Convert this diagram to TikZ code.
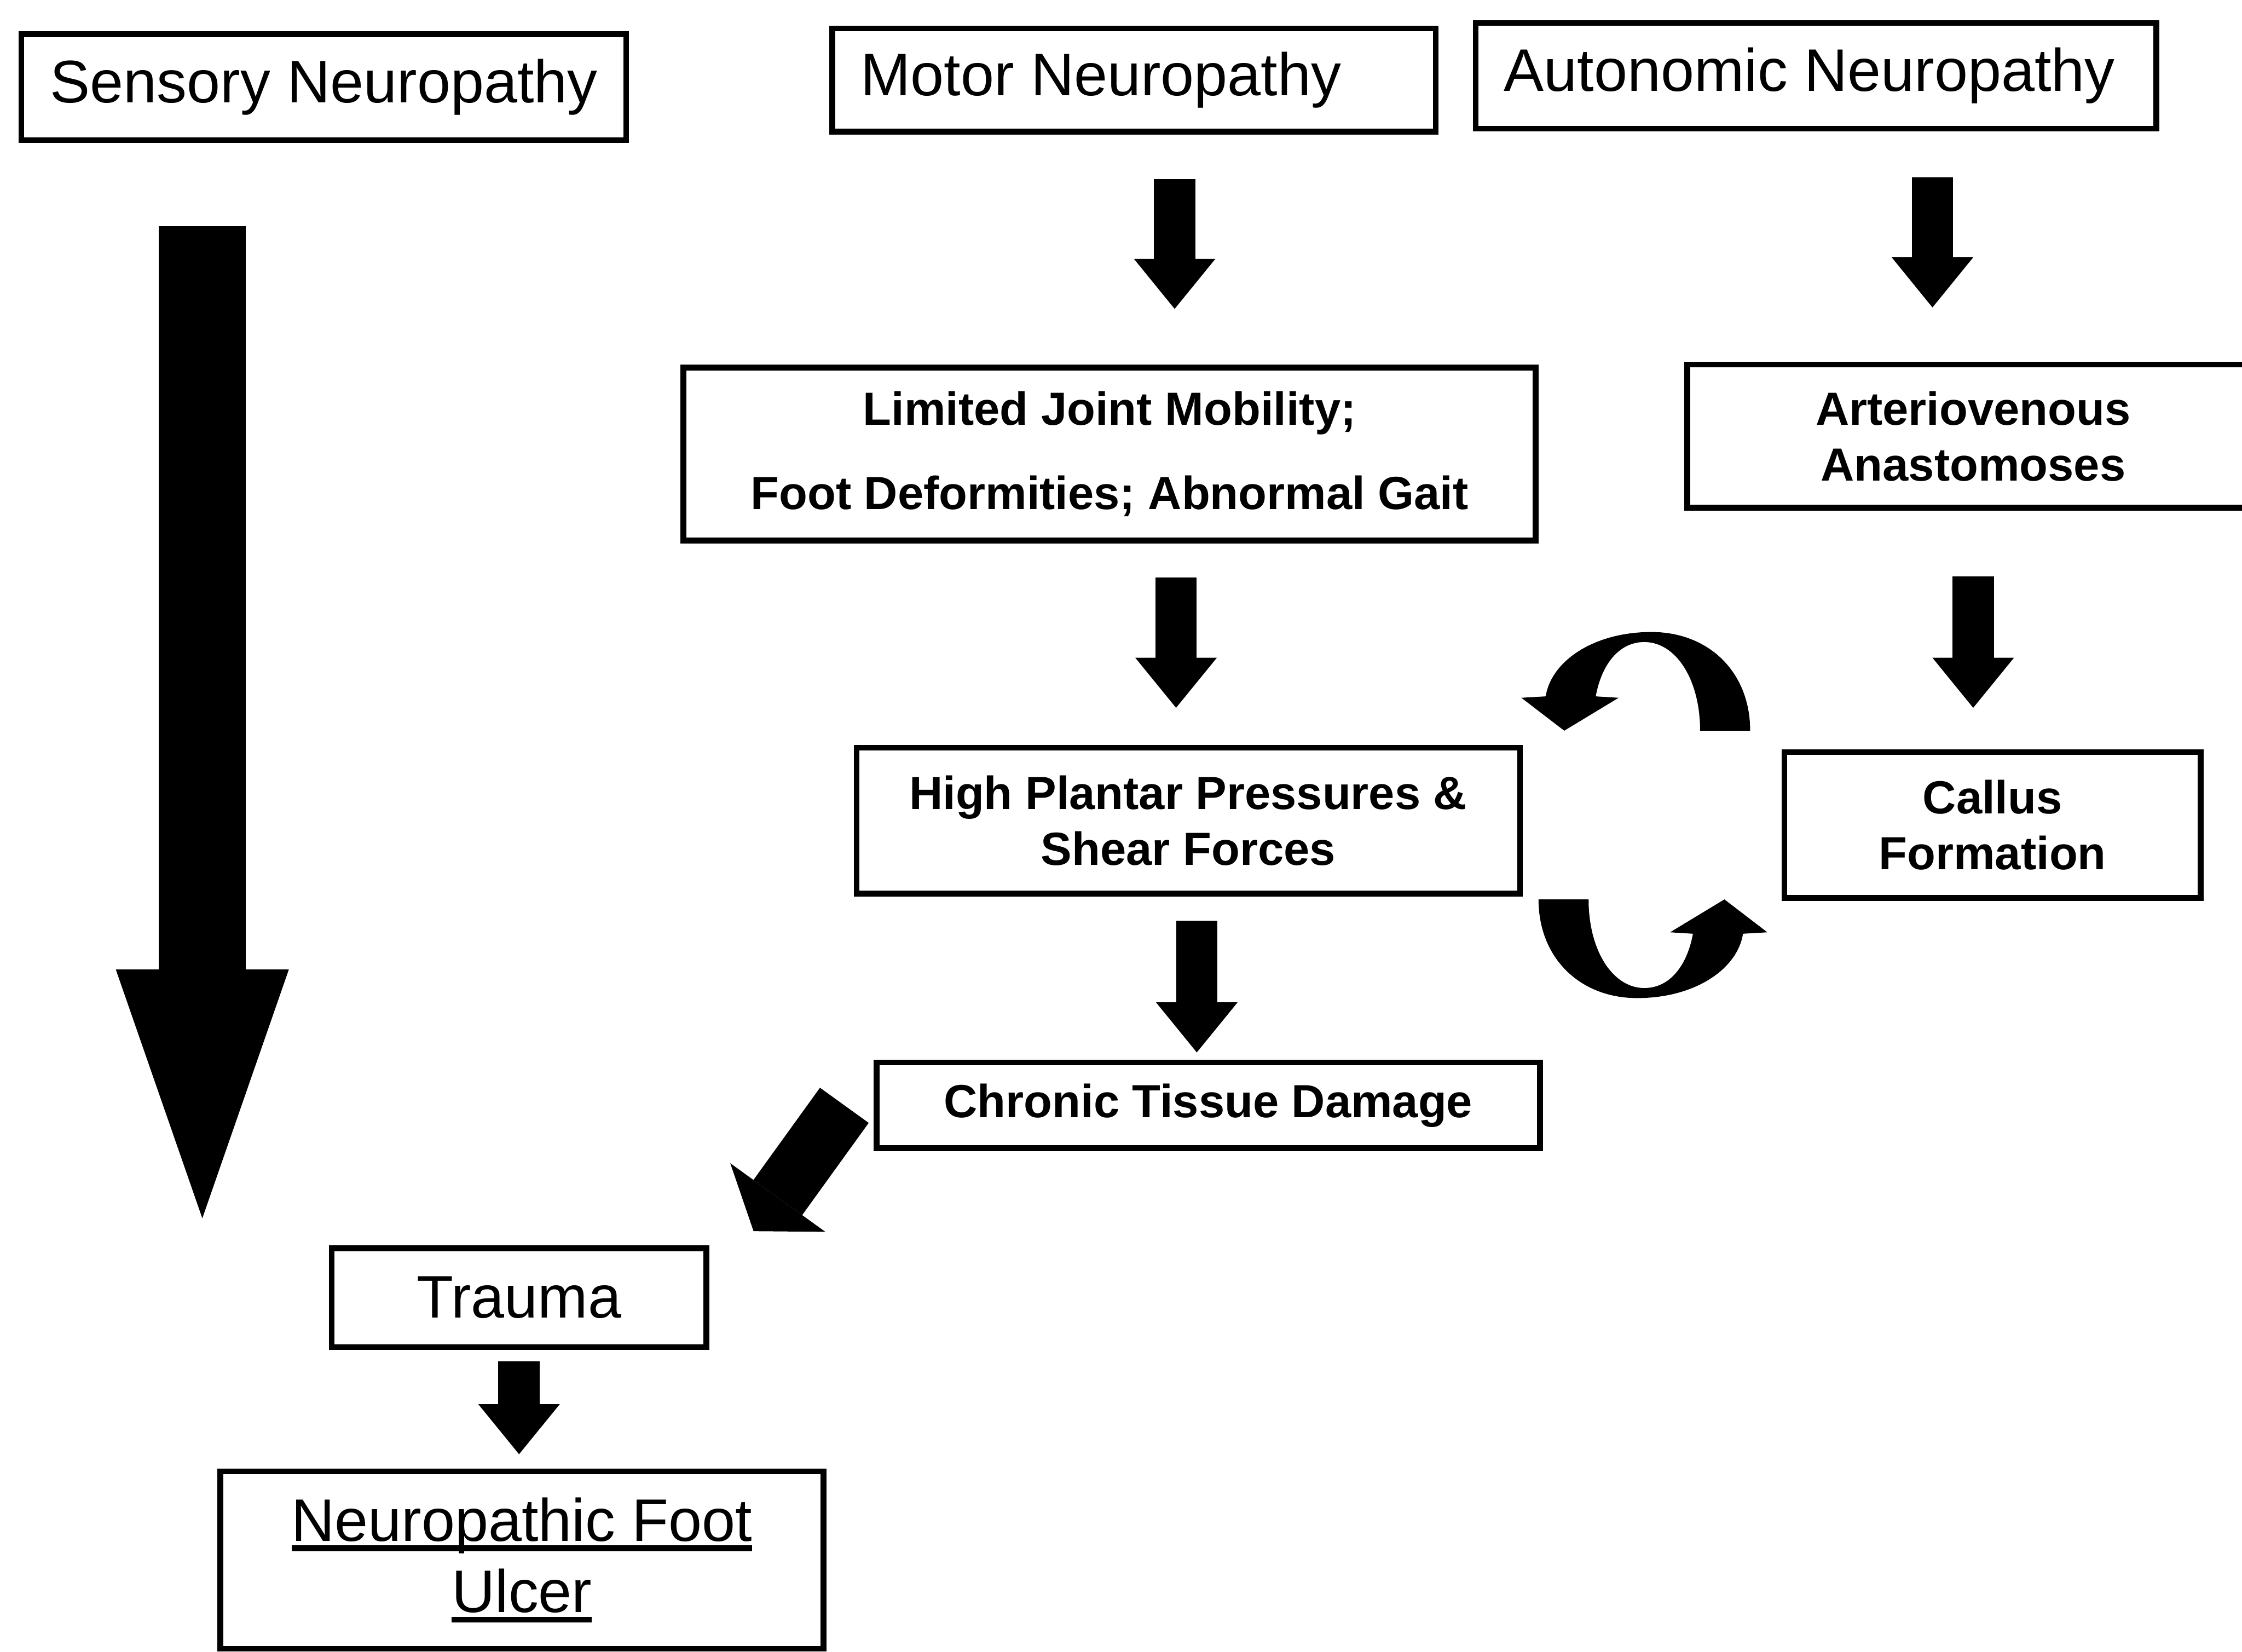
\documentclass[tikz,border=0pt]{standalone}
\usepackage{fontspec}
\setmainfont{Liberation Sans}
\usetikzlibrary{arrows.meta,calc}
\newcommand\ulword[1]{\begingroup\setbox0\hbox{#1}\rlap{\rule[-7pt]{\wd0}{4pt}}\box0\endgroup}

\begin{document}
\begin{tikzpicture}[x=1pt,y=-1pt,
  lbox/.style={draw,line width=4pt,inner sep=0pt,align=center,font=\fontsize{42pt}{50pt}\selectfont},
  sbox/.style={draw,line width=4pt,inner sep=0pt,align=center,font=\bfseries\fontsize{32.5pt}{39pt}\selectfont},
  arr/.style={line width=29pt,-{Triangle[width=57pt,length=35pt,line width=0pt]}}]
\useasboundingbox (0,0) rectangle (1568,1155);
% the three neuropathies
\node[lbox,minimum width=423pt,minimum height=74pt] (sens) at (226.5,61) {Sensory Neuropathy};
\node[lbox,minimum width=422pt,minimum height=72pt] (motor) at (793,56) {Motor Neuropathy\hspace*{46pt}};
\node[lbox,minimum width=476pt,minimum height=74pt] (auton) at (1270,53) {Autonomic Neuropathy\hspace*{9pt}};
% middle boxes
\node[sbox,minimum width=596pt,minimum height=121pt] (ljm) at (776,317.5) {Limited Joint Mobility;\\[20pt]Foot Deformities; Abnormal Gait};
\node[sbox,minimum width=400pt,minimum height=100pt] (ava) at (1380,305) {Arteriovenous\\Anastomoses};
\node[sbox,minimum width=464pt,minimum height=102pt] (hpp) at (831,574) {High Plantar Pressures \&\\Shear Forces};
\node[sbox,minimum width=291pt,minimum height=102pt] (callus) at (1393.5,577) {Callus\\Formation};
\node[sbox,minimum width=464pt,minimum height=60pt] (ctd) at (845,773) {Chronic Tissue Damage};
% bottom
\node[lbox,minimum width=262pt,minimum height=69pt] (trauma) at (363,907.5) {Trauma};
\node[lbox,minimum width=422pt,minimum height=124pt] (ulcer) at (365,1091) {\ulword{Neuropathic Foot}\\\ulword{Ulcer}};
\coordinate (senstip) at (141.5,852);
\coordinate (dtip) at (527,861);
\coordinate (cyc) at (1150,570);
% block arrows
\draw[arr,shorten <=31pt,shorten >=39pt] ([xshift=28.5pt]motor.south) -- ([xshift=28.5pt]motor.south |- ljm.north);
\draw[arr,shorten <=32pt,shorten >=38pt] ([xshift=-28.5pt]ava.north |- auton.south) -- ([xshift=-28.5pt]ava.north);
\draw[arr,shorten <=24pt,shorten >=26pt] ([xshift=-8.5pt]hpp.north |- ljm.south) -- ([xshift=-8.5pt]hpp.north);
\draw[arr,shorten <=46pt,shorten >=29pt] (ava.south) -- (ava.south |- callus.north);
\draw[arr,shorten <=17pt,shorten >=5pt] ([xshift=6pt]hpp.south) -- ([xshift=6pt]hpp.south |- ctd.north);
\draw[arr,shorten <=8pt,shorten >=10pt] (trauma.south) -- (trauma.south |- ulcer.north);
\draw[line width=61pt,-{Triangle[width=121pt,length=174pt,line width=0pt]},shorten <=58pt] ([xshift=-85pt]sens.south) -- (senstip);
\draw[line width=42pt,-{Triangle[width=82pt,length=29pt,line width=0pt]}] ([xshift=-20.5pt]ctd.west) -- (dtip);
% the cycle between pressures and callus
\foreach \r in {0,180}
  \fill[shift={(cyc)},rotate=\r] (74,-59) .. controls (74,-100) and (45,-128) .. (5,-128)
    .. controls (-35,-128) and (-65,-108) .. (-69,-83) -- (-86,-82) -- (-56,-59) -- (-18,-82) -- (-34,-83)
    .. controls (-30,-105) and (-18,-121) .. (0,-121) .. controls (22,-121) and (39,-95) .. (39,-59) -- cycle;
\end{tikzpicture}
\end{document}
